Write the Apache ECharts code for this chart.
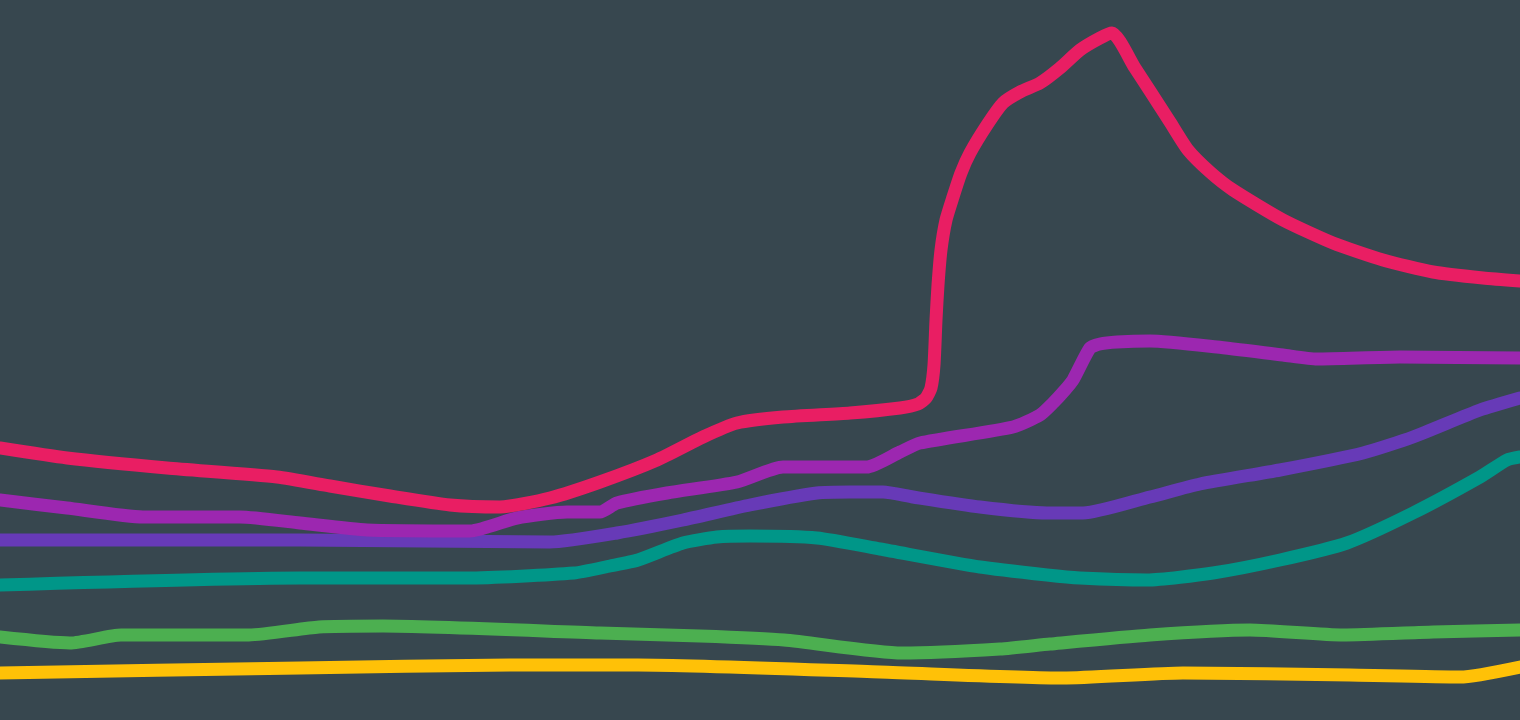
<!DOCTYPE html>
<html>
<head>
<meta charset="utf-8">
<script src="https://cdn.jsdelivr.net/npm/echarts@6/dist/echarts.min.js"></script>
<style>
html,body{margin:0;padding:0;background:#37474F;}
#chart{width:1520px;height:720px;}
</style>
</head>
<body>
<div id="chart"></div>
<script>
// x: time units 0..152, y: value units 0..72
const seriesNames = ['Amber', 'Green', 'Teal', 'Deep Purple', 'Purple', 'Pink'];
const seriesColors = ['#FFC107', '#4CAF50', '#009688', '#673AB7', '#9C27B0', '#E91E63'];

const amber = [[0,4.7],[30,5.2],[51,5.5],[63.8,5.5],[88,4.8],[106.3,4.2],[118.3,4.7],[135,4.5],[146,4.3],[152,5.3]];
const green = [[0,8.3],[7,7.7],[12.1,8.5],[24.9,8.5],[31.9,9.3],[38.3,9.4],[60,8.7],[70,8.4],[78.4,8],[90.2,6.7],[100,7.1],[105,7.6],[115,8.5],[125,9],[134.3,8.5],[143.3,8.8],[152,9]];
const teal = [[0,13.5],[30,14.2],[46.7,14.2],[57.4,14.7],[61,15.4],[63.8,16],[68.3,17.7],[71.7,18.3],[75,18.4],[81.7,18.2],[88,17.1],[98,15.3],[104.7,14.5],[108,14.2],[114.7,14],[121.3,14.7],[128,16],[134.7,17.7],[141.3,20.7],[148,24.3],[150.7,26],[152,26.3]];
const deepPurple = [[0,18],[30,18],[55,17.8],[61.7,18.7],[68.3,20],[75,21.5],[81.7,22.7],[85,22.8],[88.3,22.8],[91.3,22.3],[98,21.3],[104.7,20.7],[108.3,20.7],[115,22.3],[120,23.6],[128,25],[136.3,26.7],[141.3,28.3],[148,31],[152,32.2]];
const purple = [[0,22],[6.7,21.2],[14.3,20.3],[24,20.3],[30,19.7],[36.7,19],[47,18.9],[51.7,20.2],[56.7,20.8],[60,20.8],[61.7,21.7],[66.7,22.7],[73.7,23.8],[78.3,25.3],[86.7,25.3],[90,26.8],[92,27.7],[101.3,29.3],[104,30.5],[105.3,31.7],[106.5,33],[107.3,34],[109,37.2],[110,37.6],[111.7,37.8],[115,37.9],[121.7,37.3],[128.3,36.5],[131.7,36.1],[140,36.3],[152,36.2]];
const pink = [[0,27.2],[6.7,26.2],[16.7,25.2],[27.7,24.3],[33,23.4],[39,22.4],[45,21.5],[50,21.3],[55,22.2],[60,23.8],[65.7,26],[70.3,28.3],[73.7,29.7],[78.3,30.3],[85,30.7],[90,31.2],[91.8,31.6],[92.6,32.2],[93.1,33.2],[93.4,35.5],[93.6,40],[93.8,43.5],[94.1,47],[94.6,50],[95.3,52.3],[96.1,54.7],[97,56.7],[98.7,59.5],[100.3,61.7],[102,62.8],[104,63.7],[106,65.2],[108,67],[110,68.2],[111.2,68.7],[113.5,65.2],[115,62.9],[117,59.8],[118.8,57],[121,54.8],[123.3,53],[128.3,50],[133.3,47.7],[138.3,46],[143.3,44.8],[148.3,44.2],[152,43.9]];

const allData = [amber, green, teal, deepPurple, purple, pink];

const chart = echarts.init(document.getElementById('chart'), null, {renderer: 'canvas'});
chart.setOption({
  backgroundColor: '#37474F',
  animation: false,
  grid: {left: 0, right: 0, top: 0, bottom: 0},
  xAxis: {type: 'value', min: 0, max: 152, show: false, splitLine: {show: false}},
  yAxis: {type: 'value', min: 0, max: 72, show: false, splitLine: {show: false}},
  series: allData.map((d, i) => ({
    name: seriesNames[i],
    type: 'line',
    data: d,
    smooth: 0.2,
    showSymbol: false,
    symbol: 'none',
    lineStyle: {color: seriesColors[i], width: 13, join: 'round', cap: 'round'}
  }))
});
</script>
</body>
</html>
